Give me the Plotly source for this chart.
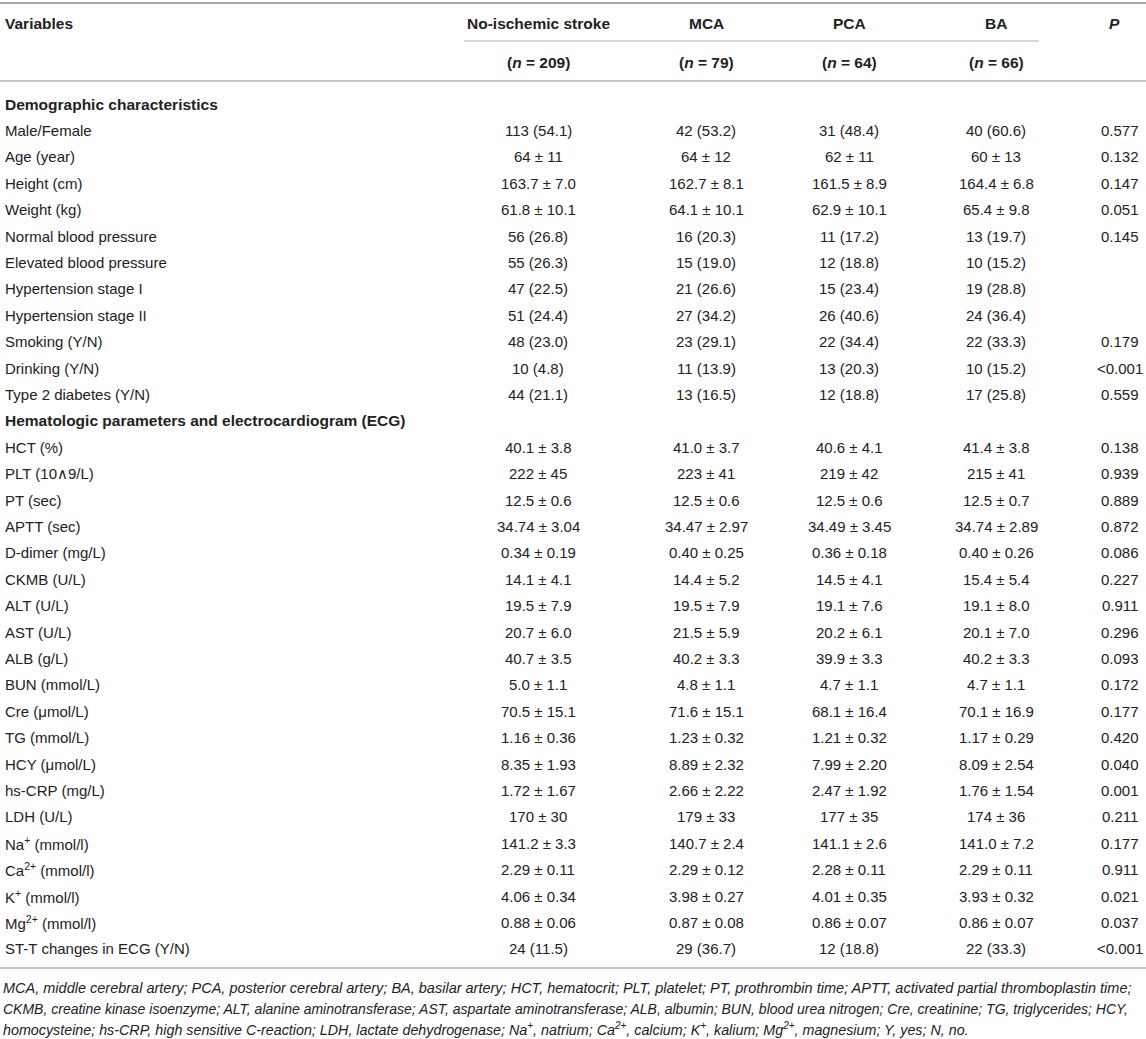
import plotly.graph_objects as go

# table content
columns = ["No-ischemic stroke", "MCA", "PCA", "BA"]
group_n = ["209", "79", "64", "66"]

demo_vars = ["Male/Female", "Age (year)", "Height (cm)", "Weight (kg)",
             "Normal blood pressure", "Elevated blood pressure",
             "Hypertension stage I", "Hypertension stage II",
             "Smoking (Y/N)", "Drinking (Y/N)", "Type 2 diabetes (Y/N)"]
demo_no = ["113 (54.1)", "64 ± 11", "163.7 ± 7.0", "61.8 ± 10.1", "56 (26.8)", "55 (26.3)",
           "47 (22.5)", "51 (24.4)", "48 (23.0)", "10 (4.8)", "44 (21.1)"]
demo_mca = ["42 (53.2)", "64 ± 12", "162.7 ± 8.1", "64.1 ± 10.1", "16 (20.3)", "15 (19.0)",
            "21 (26.6)", "27 (34.2)", "23 (29.1)", "11 (13.9)", "13 (16.5)"]
demo_pca = ["31 (48.4)", "62 ± 11", "161.5 ± 8.9", "62.9 ± 10.1", "11 (17.2)", "12 (18.8)",
            "15 (23.4)", "26 (40.6)", "22 (34.4)", "13 (20.3)", "12 (18.8)"]
demo_ba = ["40 (60.6)", "60 ± 13", "164.4 ± 6.8", "65.4 ± 9.8", "13 (19.7)", "10 (15.2)",
           "19 (28.8)", "24 (36.4)", "22 (33.3)", "10 (15.2)", "17 (25.8)"]
demo_p = ["0.577", "0.132", "0.147", "0.051", "0.145", "", "", "", "0.179", "<0.001", "0.559"]

hema_vars = ["HCT (%)", "PLT (10∧9/L)", "PT (sec)", "APTT (sec)", "D-dimer (mg/L)",
             "CKMB (U/L)", "ALT (U/L)", "AST (U/L)", "ALB (g/L)", "BUN (mmol/L)",
             "Cre (μmol/L)", "TG (mmol/L)", "HCY (μmol/L)", "hs-CRP (mg/L)", "LDH (U/L)",
             "Na<sup>+</sup> (mmol/l)", "Ca<sup>2+</sup> (mmol/l)", "K<sup>+</sup> (mmol/l)",
             "Mg<sup>2+</sup> (mmol/l)", "ST-T changes in ECG (Y/N)"]
hema_no = ["40.1 ± 3.8", "222 ± 45", "12.5 ± 0.6", "34.74 ± 3.04", "0.34 ± 0.19", "14.1 ± 4.1",
           "19.5 ± 7.9", "20.7 ± 6.0", "40.7 ± 3.5", "5.0 ± 1.1", "70.5 ± 15.1", "1.16 ± 0.36",
           "8.35 ± 1.93", "1.72 ± 1.67", "170 ± 30", "141.2 ± 3.3", "2.29 ± 0.11", "4.06 ± 0.34",
           "0.88 ± 0.06", "24 (11.5)"]
hema_mca = ["41.0 ± 3.7", "223 ± 41", "12.5 ± 0.6", "34.47 ± 2.97", "0.40 ± 0.25", "14.4 ± 5.2",
            "19.5 ± 7.9", "21.5 ± 5.9", "40.2 ± 3.3", "4.8 ± 1.1", "71.6 ± 15.1", "1.23 ± 0.32",
            "8.89 ± 2.32", "2.66 ± 2.22", "179 ± 33", "140.7 ± 2.4", "2.29 ± 0.12", "3.98 ± 0.27",
            "0.87 ± 0.08", "29 (36.7)"]
hema_pca = ["40.6 ± 4.1", "219 ± 42", "12.5 ± 0.6", "34.49 ± 3.45", "0.36 ± 0.18", "14.5 ± 4.1",
            "19.1 ± 7.6", "20.2 ± 6.1", "39.9 ± 3.3", "4.7 ± 1.1", "68.1 ± 16.4", "1.21 ± 0.32",
            "7.99 ± 2.20", "2.47 ± 1.92", "177 ± 35", "141.1 ± 2.6", "2.28 ± 0.11", "4.01 ± 0.35",
            "0.86 ± 0.07", "12 (18.8)"]
hema_ba = ["41.4 ± 3.8", "215 ± 41", "12.5 ± 0.7", "34.74 ± 2.89", "0.40 ± 0.26", "15.4 ± 5.4",
           "19.1 ± 8.0", "20.1 ± 7.0", "40.2 ± 3.3", "4.7 ± 1.1", "70.1 ± 16.9", "1.17 ± 0.29",
           "8.09 ± 2.54", "1.76 ± 1.54", "174 ± 36", "141.0 ± 7.2", "2.29 ± 0.11", "3.93 ± 0.32",
           "0.86 ± 0.07", "22 (33.3)"]
hema_p = ["0.138", "0.939", "0.889", "0.872", "0.086", "0.227", "0.911", "0.296", "0.093", "0.172",
          "0.177", "0.420", "0.040", "0.001", "0.211", "0.177", "0.911", "0.021", "0.037", "<0.001"]

footnote = [
    "MCA, middle cerebral artery; PCA, posterior cerebral artery; BA, basilar artery; HCT, hematocrit; "
    "PLT, platelet; PT, prothrombin time; APTT, activated partial thromboplastin time;",
    "CKMB, creatine kinase isoenzyme; ALT, alanine aminotransferase; AST, aspartate aminotransferase; "
    "ALB, albumin; BUN, blood urea nitrogen; Cre, creatinine; TG, triglycerides; HCY,",
    "homocysteine; hs-CRP, high sensitive C-reaction; LDH, lactate dehydrogenase; Na<sup>+</sup>, natrium; "
    "Ca<sup>2+</sup>, calcium; K<sup>+</sup>, kalium; Mg<sup>2+</sup>, magnesium; Y, yes; N, no.",
]

W, H = 1146, 1039
FONT = "Liberation Sans, Arial, sans-serif"
TXT = "#222222"
col_x = [538, 706, 849, 996, 1120]
row0, pitch = 104, 26.4
# footnote is justified in the source; a slightly smaller size on line 2 keeps it inside the page
foot_sizes = [14.5, 14.0, 14.3]

# assemble rows: (label, values, is_heading)
rows = [("Demographic characteristics", None, True)]
for i, v in enumerate(demo_vars):
    rows.append((v, [demo_no[i], demo_mca[i], demo_pca[i], demo_ba[i], demo_p[i]], False))
rows.append(("Hematologic parameters and electrocardiogram (ECG)", None, True))
for i, v in enumerate(hema_vars):
    rows.append((v, [hema_no[i], hema_mca[i], hema_pca[i], hema_ba[i], hema_p[i]], False))

fig = go.Figure()
ann = []

def txt(x, y, s, anchor="center", size=15, bold=False, italic=False):
    if bold:
        s = "<b>" + s + "</b>"
    if italic:
        s = "<i>" + s + "</i>"
    ann.append(dict(x=x, y=y, text=s, xref="x", yref="y", showarrow=False,
                    xanchor=anchor, yanchor="middle",
                    font=dict(family=FONT, size=size, color=TXT)))

# header
txt(3, 23, "Variables", "left", size=15.5, bold=True)
for i, c in enumerate(columns):
    txt(col_x[i], 23, c, size=15.5, bold=True)
    txt(col_x[i], 62, "(<i>n</i> = " + group_n[i] + ")", size=15.5, bold=True)
txt(1114, 23, "<i>P</i>", size=15.5, bold=True)

for k, (label, vals, heading) in enumerate(rows):
    y = row0 + k * pitch
    txt(3, y, label, "left", size=15.5 if heading else 15, bold=heading)
    if vals:
        for j, v in enumerate(vals):
            if v:
                txt(col_x[j], y, v)

for k, line in enumerate(footnote):
    txt(1, 988 + k * 20.5, line, "left", size=foot_sizes[k], italic=True)

shapes = [
    dict(type="line", x0=0, x1=W, y0=3, y1=3, line=dict(color="#a8a8a8", width=2)),
    dict(type="line", x0=464, x1=1039, y0=41, y1=41, line=dict(color="#b0b0b0", width=1.2)),
    dict(type="line", x0=0, x1=W, y0=81, y1=81, line=dict(color="#b0b0b0", width=1.5)),
    dict(type="line", x0=0, x1=W, y0=968, y1=968, line=dict(color="#b0b0b0", width=1.5)),
]
for s in shapes:
    s.update(xref="x", yref="y")

fig.update_layout(
    width=W, height=H,
    margin=dict(l=0, r=0, t=0, b=0),
    paper_bgcolor="white", plot_bgcolor="white",
    xaxis=dict(range=[0, W], visible=False, fixedrange=True),
    yaxis=dict(range=[H, 0], visible=False, fixedrange=True),
    annotations=ann, shapes=shapes, showlegend=False,
)

# the page body has a default 8px margin; drop it so the table sits flush like the reference
fig.write_html("out.html", config={"displayModeBar": False},
               post_script="document.body.style.margin='0';")
